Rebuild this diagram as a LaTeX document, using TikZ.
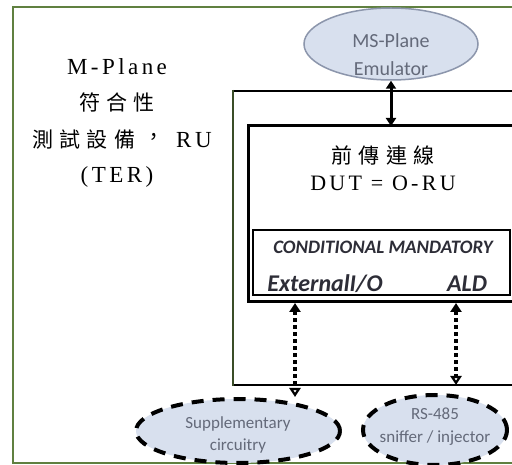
\documentclass[tikz,border=0pt]{standalone}
\usepackage{fontspec}
\setmainfont{Liberation Serif}
\newfontfamily\lserif[LetterSpace=15]{Liberation Serif}
\newfontfamily\cjk[LetterSpace=30,Script=CJK,Language=Chinese Traditional]{Noto Sans CJK TC}
\newfontfamily\calfont{Carlito}
\usetikzlibrary{arrows.meta,shapes.geometric}
\definecolor{framegreen}{RGB}{96,128,64}
\definecolor{ellfill}{RGB}{216,224,238}
\definecolor{ellborder}{RGB}{140,150,172}
\definecolor{elltext}{RGB}{100,106,122}
\definecolor{cmtext}{RGB}{45,45,55}
\tikzset{
  serifbig/.style={font=\lserif\fontsize{23}{26}\selectfont, inner sep=0pt},
  cjkbig/.style={font=\cjk\fontsize{21}{24}\selectfont, inner sep=0pt},
  elltxt/.style={font=\calfont\fontsize{17}{22}\selectfont, text=elltext, align=center, inner sep=0pt},
  solidell/.style={ellipse, draw=ellborder, fill=ellfill, line width=1.5pt, inner sep=0pt},
  dashell/.style={ellipse, draw=black, fill=ellfill, line width=4pt, dash pattern=on 12pt off 9pt, inner sep=0pt},
  boxline/.style={line width=2.5pt, black},
  dotarrow/.style={line width=4pt, dash pattern=on 3.5pt off 3.5pt,
     {Triangle[length=9pt,width=11pt]}-{Triangle[open,length=9pt,width=11pt]}},
  cmlabel/.style={font=\calfont\bfseries\itshape, text=cmtext, inner sep=0pt}
}
\begin{document}
\begin{tikzpicture}[x=1pt,y=-1pt]
\useasboundingbox (0,0) rectangle (512,465);
\fill[white] (0,0) rectangle (512,465);
\begin{scope}
\clip (0,0) rectangle (512,465);
% outer frame
\draw[framegreen, line width=2.5pt] (13,7) rectangle (540,463);
% box 1
\draw[boxline] (233,91) -- (560,91);
\draw[boxline] (233,385) -- (560,385);
\draw[line width=2.5pt, framegreen!60!black] (233,90) -- (233,386);
% box 2
\draw[line width=3pt] (560,126) -| (248,302) -- (560,302);
\end{scope}
% conditional mandatory box
\node[draw, line width=2pt, minimum width=257pt, minimum height=65pt, inner sep=0pt] (cm) at (381.5,262.5) {};
\coordinate (b2top) at (391,126);
\coordinate (b1bot) at (456,385);
\coordinate (extop) at (295,303);
\coordinate (aldtop) at (456,303);
% left text
\node[serifbig] (t1) at (117,67) {M-Plane};
\node[cjkbig] (t2) at (117,102) {符合性};
\node[inner sep=0pt] (t3) at (122,140) {{\cjk\fontsize{21}{24}\selectfont 測試設備\hspace{0.4em}\raisebox{0.15em}{，}\hspace{0.55em}}{\lserif\fontsize{23}{26}\selectfont RU}};
\node[serifbig] (t4) at (117,177) {(TER)};
% centre text
\node[cjkbig] (c1) at (383,155) {前傳連線};
\node[serifbig, font=\lserif\fontsize{22}{26}\selectfont] (c2) at (383,183) {DUT = O-RU};
% MS-Plane emulator
\node[solidell, minimum width=174pt, minimum height=72pt] (ms) at (391,44) {};
\node[elltxt, font=\calfont\fontsize{20}{28}\selectfont] (mst) at (391,55) {MS-Plane\\Emulator};
\draw[line width=3pt, {Triangle[length=8pt,width=10pt]}-{Triangle[length=8pt,width=10pt]}] (ms.south) -- (b2top);
% CM labels
\node[cmlabel, font=\calfont\bfseries\itshape\fontsize{19}{22}\selectfont] (cml) at (383,247) {CONDITIONAL MANDATORY};
\node[cmlabel, font=\calfont\bfseries\itshape\fontsize{24}{26}\selectfont] (ext) at (325,284) {ExternalI/O};
\node[cmlabel, font=\calfont\bfseries\itshape\fontsize{24}{26}\selectfont] (ald) at (467,284) {ALD};
% bottom ellipses
\node[dashell, minimum width=204pt, minimum height=64pt] (sup) at (238,431) {};
\node[elltxt] (supt) at (238,435) {Supplementary\\circuitry};
\node[dashell, minimum width=144pt, minimum height=70pt] (rs) at (435,430) {};
\node[elltxt, font=\calfont\fontsize{17}{23}\selectfont] (rst) at (435,427) {RS-485\\sniffer / injector};
% dotted arrows
\draw[dotarrow] (extop) -- (sup.north -| extop);
\draw[dotarrow] (aldtop) -- (b1bot);
\end{tikzpicture}
\end{document}
